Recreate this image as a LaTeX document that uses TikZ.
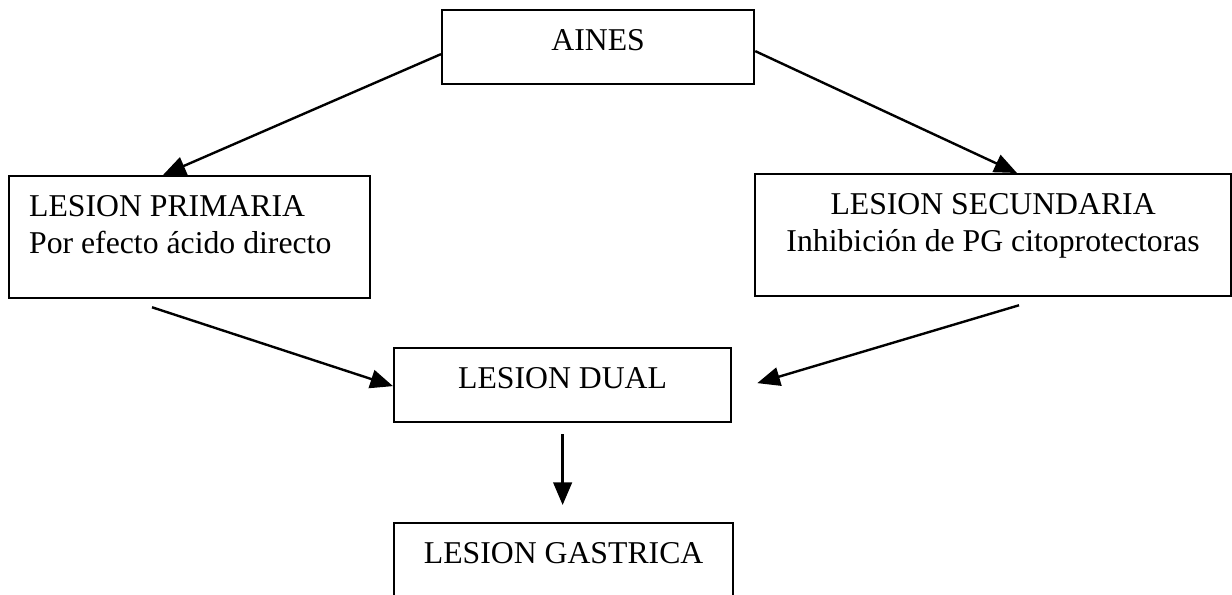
\documentclass[tikz,border=0pt]{standalone}
\usepackage{fontspec}
\setmainfont{Liberation Serif}
\usetikzlibrary{arrows.meta,calc}
\newcommand\bxt[4]{\parbox[c][#2][t]{#1}{#3\vspace*{11pt}\strut #4\par}}
\tikzset{
  box/.style={draw, line width=1.7pt, inner sep=0pt, anchor=north west},
  arr/.style={line width=1.8pt, -{Triangle[length=17pt,width=14pt]}}
}
\begin{document}
\begin{tikzpicture}[x=0.75pt,y=-0.75pt,font=\fontsize{23.8pt}{27.75pt}\selectfont]
\useasboundingbox (0,0) rectangle (1232,595);
\node[box] (aines) at (441,9) {\bxt{234pt}{55.5pt}{\centering}{AINES}};
\node[box] (prim) at (8,175) {\bxt{270.75pt}{91.5pt}{\raggedright\leftskip=15pt}{LESION PRIMARIA\\Por efecto ácido directo}};
\node[box] (sec) at (754,173) {\bxt{357pt}{91.5pt}{\centering}{LESION SECUNDARIA\\Inhibición de PG citoprotectoras}};
\node[box] (dual) at (393,347) {\bxt{252.75pt}{55.5pt}{\centering}{LESION DUAL}};
\node[box] (gas) at (393,522) {\bxt{254.25pt}{55.5pt}{\centering}{LESION GASTRICA}};
\draw[arr] ($(aines.west)+(0,7)$) -- ($(prim.north west)+(155,0)$);
\draw[arr] ($(aines.east)+(0,4)$) -- ($(sec.north west)+(263,0)$);
\draw[arr] ($(prim.south west)+(144,8)$) -- ($(dual.west)+(0,1)$);
\draw[arr] ($(sec.south west)+(265,8)$) -- ($(dual.east)+(25,-2)$);
\draw[arr] ($(dual.south)+(0,11)$) -- ($(dual.south |- gas.north)+(0,-17)$);
\end{tikzpicture}
\end{document}
